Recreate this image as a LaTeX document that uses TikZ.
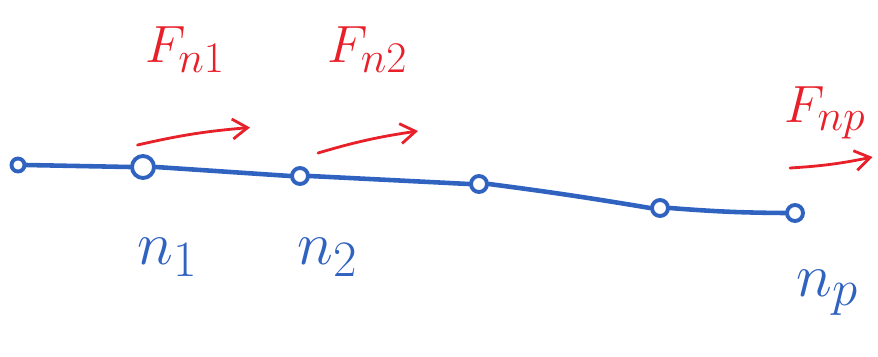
\documentclass[tikz,border=0pt]{standalone}
\usepackage{amsmath}
\usepackage{xcolor}
\usetikzlibrary{positioning,arrows.meta}

\definecolor{beamblue}{RGB}{48,98,192}
\definecolor{forcered}{RGB}{232,32,42}

\begin{document}
\begin{tikzpicture}[
  >={Straight Barb[length=3mm,width=4mm]},
  beam/.style={draw=beamblue, line width=2.6pt, line cap=round, line join=round},
  joint/.style={circle, draw=beamblue, line width=2.2pt, fill=white,
                minimum size=3.2mm, inner sep=0pt},
  bigjoint/.style={joint, minimum size=4.4mm},
  nlabel/.style={text=beamblue, font=\Huge, scale=1.4},
  flabel/.style={text=forcered, font=\Huge, scale=1.2},
  force/.style={->, draw=forcered, line width=1.6pt, line cap=round}
]
\useasboundingbox (0,0) rectangle (17.56,-7.12);

% ---- Joints along the beam ----
\node[joint, minimum size=2.6mm] (j0) at (0.36,-3.30) {};
\node[bigjoint] (j1) at (2.86,-3.34) {};
\node[joint]    (j2) at (6.00,-3.52) {};
\node[joint]    (j3) at (9.58,-3.68) {};
\node[joint]    (j4) at (13.20,-4.16) {};
\node[joint]    (jp) at (15.90,-4.26) {};

% ---- Beam ----
\draw[beam] (j0.east) -- (j1.west);
\draw[beam] (j1.east) -- (j2.west);
\draw[beam] (j2.east) -- (j3.west);
\draw[beam] (j3.east) to[bend left=1] (j4.west);
\draw[beam] (j4.east) to[bend right=2] (jp.west);

% ---- Node labels ----
\node[nlabel] (ln1) at (3.35,-5.15) {$n_1$};
\node[nlabel] (ln2) at (6.55,-5.15) {$n_2$};
\node[nlabel] (lnp) at (16.55,-5.85) {$n_p$};

% ---- Force labels ----
\node[flabel] (lf1) at (3.70,-1.00) {$F_{n1}$};
\node[flabel] (lf2) at (7.35,-1.00) {$F_{n2}$};
\node[flabel, scale=1.0] (lfp) at (16.50,-2.25) {$F_{np}$};

% ---- Force arrows ----
\coordinate (f1s) at (2.75,-2.90);
\coordinate (f1e) at (5.00,-2.55);
\coordinate (f2s) at (6.36,-3.06);
\coordinate (f2e) at (8.36,-2.62);
\coordinate (fps) at (15.80,-3.36);
\coordinate (fpe) at (17.45,-3.14);

\draw[force] (f1s) to[bend left=4] (f1e);
\draw[force] (f2s) to[bend left=4] (f2e);
\draw[force] (fps) to[bend right=4] (fpe);

\end{tikzpicture}
\end{document}
